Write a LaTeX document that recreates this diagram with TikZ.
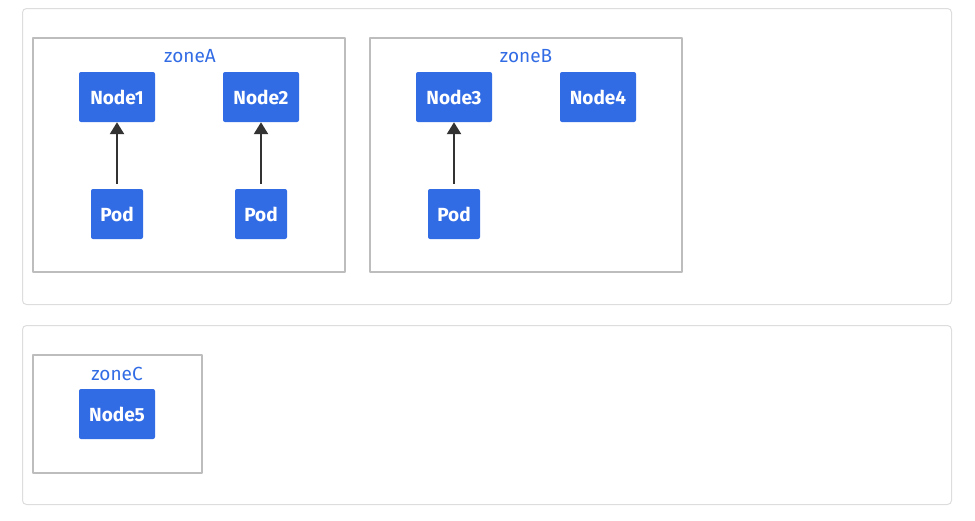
\documentclass[tikz,border=0pt]{standalone}
\usepackage{fontspec}
\setmainfont{Fira Sans}
\usetikzlibrary{arrows.meta}
\definecolor{kblue}{HTML}{326CE5}
\definecolor{zonegray}{HTML}{BDBDBD}
\definecolor{panelgray}{HTML}{DDDDDD}
\definecolor{arrowgray}{HTML}{333333}
\tikzset{
  panel/.style={draw=panelgray, line width=1pt, rounded corners=4pt, fill=white},
  zonebox/.style={draw=zonegray, line width=2pt, fill=white, inner sep=0pt},
  zonelabel/.style={text=kblue, font=\fontsize{19}{21}\selectfont, inner sep=0pt},
  nodebox/.style={fill=kblue, rounded corners=2pt, text=white, inner sep=0pt,
    minimum width=76pt, minimum height=50pt, font=\fontsize{19}{21}\selectfont\bfseries},
  podbox/.style={nodebox, minimum width=52pt},
  link/.style={-{Triangle[length=12pt,width=14pt]}, draw=arrowgray, line width=2.4pt, shorten <=5pt}
}
\begin{document}
\begin{tikzpicture}[x=1pt, y=-1pt, line join=round]
	\useasboundingbox (0,0) rectangle (975,520);
	% the two panels
	\draw[panel] (22.5,8.5) rectangle (951.5,304.5);
	\draw[panel] (22.5,325.5) rectangle (951.5,504.5);
	% zones
	\node[zonebox, minimum width=312pt, minimum height=234pt] (zoneA) at (189,155) {};
	\node[zonebox, minimum width=312pt, minimum height=234pt] (zoneB) at (526,155) {};
	\node[zonebox, minimum width=169pt, minimum height=118pt] (zoneC) at (117.5,414) {};
	\node[zonelabel] (labelA) at (190,56) {zoneA};
	\node[zonelabel] (labelB) at (526,56) {zoneB};
	\node[zonelabel] (labelC) at (117,374) {zoneC};
	% nodes
	\node[nodebox] (node1) at (117,97) {Node1};
	\node[nodebox] (node2) at (261,97) {Node2};
	\node[nodebox] (node3) at (454,97) {Node3};
	\node[nodebox] (node4) at (598,97) {Node4};
	\node[nodebox] (node5) at (117,414) {Node5};
	% pods
	\node[podbox] (pod1) at (117,214) {Pod};
	\node[podbox] (pod2) at (261,214) {Pod};
	\node[podbox] (pod3) at (454,214) {Pod};
	\draw[link] (pod1) -- (node1);
	\draw[link] (pod2) -- (node2);
	\draw[link] (pod3) -- (node3);
\end{tikzpicture}
\end{document}
